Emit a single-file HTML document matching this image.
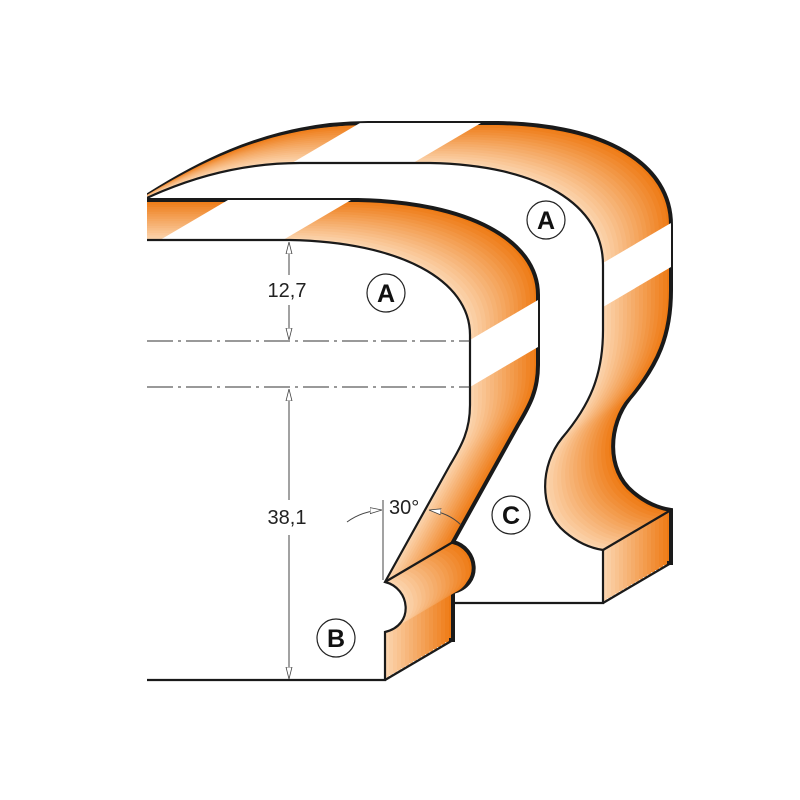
<!DOCTYPE html>
<html><head><meta charset="utf-8"><style>html,body{margin:0;padding:0;background:#fff}svg{display:block}</style></head>
<body>
<svg width="800" height="800" viewBox="0 0 800 800" xmlns="http://www.w3.org/2000/svg" font-family="Liberation Sans, sans-serif">
<defs>
<path id="p2" d="M40,262 C120,205 200,163 300,163 L430,163 C540,165 603,205 603,265 L603,330 C603,375 590,405 562,438 C540,465 538,510 565,532 C578,543 590,548 603,550 L603,603 L40,603 Z"/>
<path id="p1" d="M40,240 L290,240 C400,242 470,280 470,335 L470,405 C470,430 462,445 450,465 L385,582 C410,588 415,625 385,632 L385,680 L40,680 Z"/>
<clipPath id="all"><rect x="147" y="0" width="653" height="800"/></clipPath>
<clipPath id="c2">
<use href="#p2"/><use href="#p2" transform="translate(8,-4.71)"/><use href="#p2" transform="translate(16,-9.41)"/><use href="#p2" transform="translate(24,-14.12)"/><use href="#p2" transform="translate(32,-18.82)"/><use href="#p2" transform="translate(40,-23.53)"/><use href="#p2" transform="translate(48,-28.24)"/><use href="#p2" transform="translate(56,-32.94)"/><use href="#p2" transform="translate(64,-37.65)"/><use href="#p2" transform="translate(68,-40)"/><use href="#p2" transform="translate(4,-2.35)"/><use href="#p2" transform="translate(12,-7.06)"/><use href="#p2" transform="translate(20,-11.76)"/><use href="#p2" transform="translate(28,-16.47)"/><use href="#p2" transform="translate(36,-21.18)"/><use href="#p2" transform="translate(44,-25.88)"/><use href="#p2" transform="translate(52,-30.59)"/><use href="#p2" transform="translate(60,-35.29)"/>
</clipPath>
<clipPath id="c1">
<use href="#p1"/><use href="#p1" transform="translate(8,-4.71)"/><use href="#p1" transform="translate(16,-9.41)"/><use href="#p1" transform="translate(24,-14.12)"/><use href="#p1" transform="translate(32,-18.82)"/><use href="#p1" transform="translate(40,-23.53)"/><use href="#p1" transform="translate(48,-28.24)"/><use href="#p1" transform="translate(56,-32.94)"/><use href="#p1" transform="translate(64,-37.65)"/><use href="#p1" transform="translate(68,-40)"/><use href="#p1" transform="translate(4,-2.35)"/><use href="#p1" transform="translate(12,-7.06)"/><use href="#p1" transform="translate(20,-11.76)"/><use href="#p1" transform="translate(28,-16.47)"/><use href="#p1" transform="translate(36,-21.18)"/><use href="#p1" transform="translate(44,-25.88)"/><use href="#p1" transform="translate(52,-30.59)"/><use href="#p1" transform="translate(60,-35.29)"/>
</clipPath>
<marker id="ar" viewBox="0 0 12 8" refX="12" refY="4" markerWidth="12" markerHeight="8" markerUnits="userSpaceOnUse" orient="auto"><path d="M0,1 L12,4 L0,7 Z" fill="#fff" stroke="#444" stroke-width="0.8"/></marker>
</defs>
<g clip-path="url(#all)">
<!-- piece 2 -->
<use href="#p2" transform="translate(68,-40)" fill="rgb(238,122,20)" stroke="#1a1a1a" stroke-width="4"/>
<use href="#p2" transform="translate(64,-37.65)" fill="rgb(239,128,30)"/>
<use href="#p2" transform="translate(60,-35.29)" fill="rgb(240,133,39)"/>
<use href="#p2" transform="translate(56,-32.94)" fill="rgb(241,139,49)"/>
<use href="#p2" transform="translate(52,-30.59)" fill="rgb(241,144,58)"/>
<use href="#p2" transform="translate(48,-28.24)" fill="rgb(242,150,68)"/>
<use href="#p2" transform="translate(44,-25.88)" fill="rgb(243,156,77)"/>
<use href="#p2" transform="translate(40,-23.53)" fill="rgb(244,161,87)"/>
<use href="#p2" transform="translate(36,-21.18)" fill="rgb(245,167,96)"/>
<use href="#p2" transform="translate(32,-18.82)" fill="rgb(245,172,106)"/>
<use href="#p2" transform="translate(28,-16.47)" fill="rgb(246,178,115)"/>
<use href="#p2" transform="translate(24,-14.12)" fill="rgb(247,183,125)"/>
<use href="#p2" transform="translate(20,-11.76)" fill="rgb(248,189,134)"/>
<use href="#p2" transform="translate(16,-9.41)" fill="rgb(249,195,144)"/>
<use href="#p2" transform="translate(12,-7.06)" fill="rgb(250,200,153)"/>
<use href="#p2" transform="translate(8,-4.71)" fill="rgb(250,206,163)"/>
<use href="#p2" transform="translate(4,-2.35)" fill="rgb(251,211,172)"/>
<g clip-path="url(#c2)" fill="#fff">
<polygon points="190,223 311,223 515,103 394,103"/>
<polygon points="501,323 501,367 705,247 705,203"/>
</g>
<use href="#p2" fill="#fff" stroke="#1a1a1a" stroke-width="2.2"/>
<g stroke="#1a1a1a" stroke-width="2.2" fill="none">
<line x1="603" y1="550" x2="671" y2="510"/>
<line x1="603" y1="603" x2="671" y2="563"/>
</g>
<!-- piece 1 -->
<use href="#p1" transform="translate(68,-40)" fill="rgb(238,122,20)" stroke="#1a1a1a" stroke-width="4"/>
<use href="#p1" transform="translate(64,-37.65)" fill="rgb(239,128,30)"/>
<use href="#p1" transform="translate(60,-35.29)" fill="rgb(240,133,39)"/>
<use href="#p1" transform="translate(56,-32.94)" fill="rgb(241,139,49)"/>
<use href="#p1" transform="translate(52,-30.59)" fill="rgb(241,144,58)"/>
<use href="#p1" transform="translate(48,-28.24)" fill="rgb(242,150,68)"/>
<use href="#p1" transform="translate(44,-25.88)" fill="rgb(243,156,77)"/>
<use href="#p1" transform="translate(40,-23.53)" fill="rgb(244,161,87)"/>
<use href="#p1" transform="translate(36,-21.18)" fill="rgb(245,167,96)"/>
<use href="#p1" transform="translate(32,-18.82)" fill="rgb(245,172,106)"/>
<use href="#p1" transform="translate(28,-16.47)" fill="rgb(246,178,115)"/>
<use href="#p1" transform="translate(24,-14.12)" fill="rgb(247,183,125)"/>
<use href="#p1" transform="translate(20,-11.76)" fill="rgb(248,189,134)"/>
<use href="#p1" transform="translate(16,-9.41)" fill="rgb(249,195,144)"/>
<use href="#p1" transform="translate(12,-7.06)" fill="rgb(250,200,153)"/>
<use href="#p1" transform="translate(8,-4.71)" fill="rgb(250,206,163)"/>
<use href="#p1" transform="translate(4,-2.35)" fill="rgb(251,211,172)"/>
<g clip-path="url(#c1)" fill="#fff">
<polygon points="58,300 181,300 385,180 262,180"/>
<polygon points="368,400 368,447 572,327 572,280"/>
</g>
<use href="#p1" fill="#fff" stroke="#1a1a1a" stroke-width="2.2"/>
<g stroke="#1a1a1a" stroke-width="2.2" fill="none">
<line x1="385" y1="680" x2="453" y2="640"/>
<line x1="385" y1="582" x2="453" y2="542"/>
</g>
</g>
<!-- center lines -->
<g stroke="#333" stroke-width="1" stroke-dasharray="26,5,3,5">
<line x1="147" y1="341" x2="470" y2="341"/>
<line x1="147" y1="387" x2="470" y2="387"/>
</g>
<!-- dimensions -->
<g stroke="#444" stroke-width="1" fill="none">
<line x1="289" y1="275" x2="289" y2="242" marker-end="url(#ar)"/>
<line x1="289" y1="305" x2="289" y2="340" marker-end="url(#ar)"/>
<line x1="289" y1="500" x2="289" y2="389" marker-end="url(#ar)"/>
<line x1="289" y1="535" x2="289" y2="679" marker-end="url(#ar)"/>
<line x1="383" y1="500" x2="383" y2="580"/>
<path d="M347,522 Q362,511 382,510" marker-end="url(#ar)"/>
<path d="M461,525 Q449,513 429,510" marker-end="url(#ar)"/>
</g>
<g fill="#222" font-size="20">
<text x="287" y="297" text-anchor="middle">12,7</text>
<text x="287" y="524" text-anchor="middle">38,1</text>
<text x="389" y="514">30°</text>
</g>
<!-- labels -->
<g stroke="#222" stroke-width="1.2" fill="#fff">
<circle cx="386" cy="293" r="19"/>
<circle cx="546" cy="220" r="19"/>
<circle cx="336" cy="638" r="19"/>
<circle cx="511" cy="515" r="19"/>
</g>
<g fill="#111" font-size="25" font-weight="bold" text-anchor="middle">
<text x="386" y="302">A</text>
<text x="546" y="229">A</text>
<text x="336" y="647">B</text>
<text x="511" y="524">C</text>
</g>
</svg>
</body></html>
